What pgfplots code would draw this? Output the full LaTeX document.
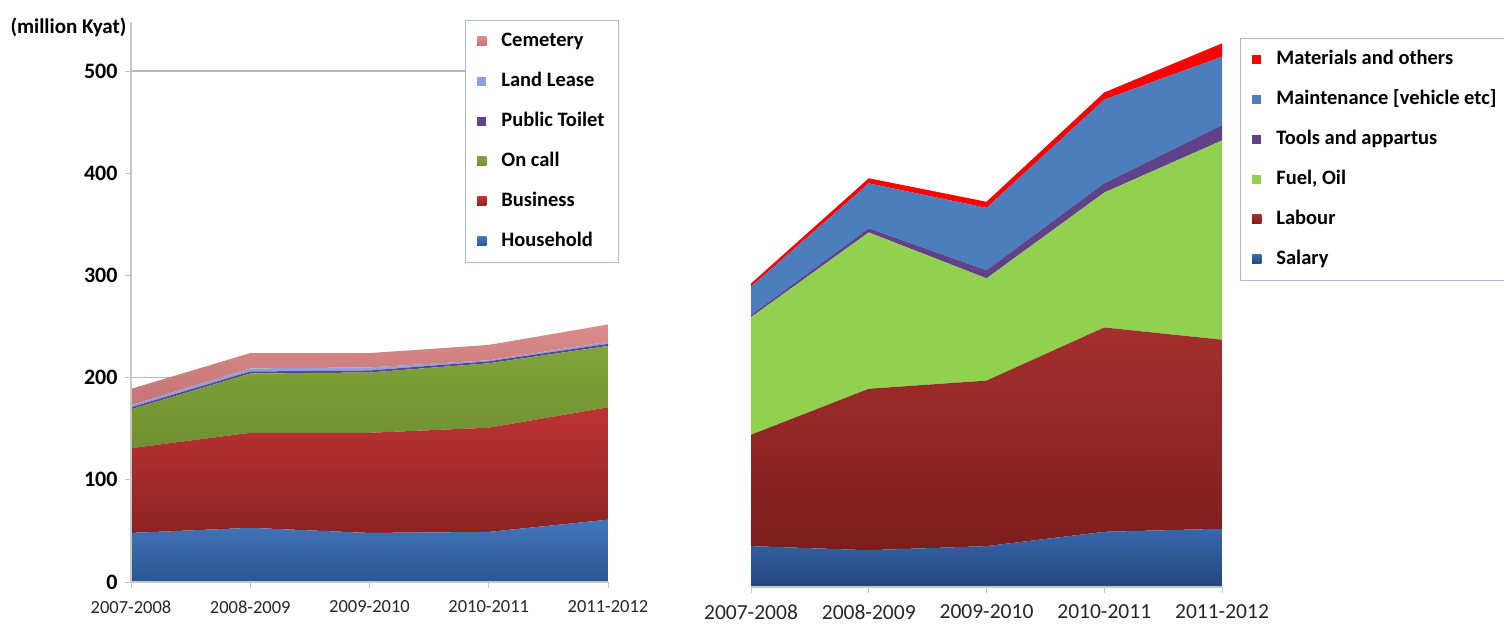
\documentclass[border=0pt]{standalone}
\usepackage{pgfplots}
\pgfplotsset{compat=1.18}
\usepackage{pgfplotstable}
\usepackage{fontspec}
\setmainfont{Carlito}
\definecolor{hhT}{RGB}{66,118,188}
\definecolor{hhB}{RGB}{42,86,146}
\definecolor{buT}{RGB}{190,52,50}
\definecolor{buB}{RGB}{140,34,34}
\definecolor{ocT}{RGB}{128,164,58}
\definecolor{ocB}{RGB}{112,144,48}
\definecolor{pt}{RGB}{96,70,142}
\definecolor{ll}{RGB}{142,162,216}
\definecolor{ceT}{RGB}{218,140,138}
\definecolor{ceB}{RGB}{196,116,116}
\definecolor{saT}{RGB}{54,104,172}
\definecolor{saB}{RGB}{36,70,124}
\definecolor{laT}{RGB}{165,46,46}
\definecolor{laB}{RGB}{124,30,30}
\definecolor{fu}{RGB}{146,208,80}
\definecolor{to}{RGB}{96,66,136}
\definecolor{ma}{RGB}{76,126,190}
\definecolor{mo}{RGB}{255,0,0}
\definecolor{legbox}{RGB}{170,185,215}
\pgfplotstableread{
x hh bus oncall toilet land cem
0 48 83 38 2 2 16
1 53 93 58 2 3 15
2 48 98 59 2 3 14
3 49 102 63 2 1 15
4 61 110 60 2 2 17
}\lefttab
\pgfplotstableread{
x salary labour fuel tools maint mat
0 40 109 115 2 28 3
1 36 158 153 4 44 5
2 40 162 100 8 61 6
3 54 200 132 9 82 7
4 57 185 195 15 67 13
}\righttab
\pgfplotsset{
  common/.style={
    scale only axis, xmin=0, xmax=4, ymin=0,
    stack plots=y, area style,
    axis x line*=bottom,
    axis line style={draw=black!22, line width=1.2pt},
    tick style={draw=black!22, line width=1pt},
    major tick length=6pt, tick align=outside,
    xtick={0,1,2,3,4},
    xticklabels={2007-2008,2008-2009,2009-2010,2010-2011,2011-2012},
    /pgf/number format/assume math mode=true,
    legend cell align=left,
    reverse legend,
    legend image code/.code={\fill[#1,draw=none] (0pt,-4.5pt) rectangle (9pt,4.5pt);},
  },
  legst/.style={
    draw=legbox, line width=1pt, fill=white,
    font=\bfseries\fontsize{20.5}{22}\selectfont,
    inner xsep=12pt, inner ysep=10pt, row sep=18pt,
    nodes={text height=14pt, text depth=4pt},
    /tikz/every odd column/.append style={column sep=13pt},
  },
}
\begin{document}
\begin{tikzpicture}[x=1pt,y=1pt]
\useasboundingbox (0,0) rectangle (1504,624);
\clip (0,0) rectangle (1504,624);
\node[font=\bfseries\fontsize{21}{22}\selectfont, anchor=west] at (7,597) {(million Kyat)};
% background gridlines (behind the areas)
\begin{axis}[
  at={(131pt,42pt)}, anchor=south west,
  scale only axis, width=477pt, height=560pt,
  xmin=0, xmax=4, ymin=0, ymax=548, hide axis,
]
\addplot[black!28, line width=1.2pt] coordinates {(0,200) (4,200)};
\addplot[black!28, line width=1.2pt] coordinates {(0,500) (4,500)};
\end{axis}
\begin{axis}[common,
  at={(131pt,42pt)}, anchor=south west,
  width=477pt, height=560pt, ymax=548,
  axis y line*=left,
  ytick={0,100,200,300,400,500},
  xticklabel style={font=\fontsize{18.5}{20}\selectfont, text=black!85, yshift=-9pt},
  yticklabel style={font=\bfseries\fontsize{22}{24}\selectfont, xshift=-4pt},
  legend style={legst, at={(0.700,1.0036)}, anchor=north west},
]
\addplot[draw=none, top color=hhT, bottom color=hhB] table[x=x,y=hh]{\lefttab} \closedcycle;
\addlegendentry{Household}
\addplot[draw=none, top color=buT, bottom color=buB] table[x=x,y=bus]{\lefttab} \closedcycle;
\addlegendentry{Business}
\addplot[draw=none, top color=ocT, bottom color=ocB] table[x=x,y=oncall]{\lefttab} \closedcycle;
\addlegendentry{On call}
\addplot[draw=none, fill=pt] table[x=x,y=toilet]{\lefttab} \closedcycle;
\addlegendentry{Public Toilet}
\addplot[draw=none, fill=ll] table[x=x,y=land]{\lefttab} \closedcycle;
\addlegendentry{Land Lease}
\addplot[draw=none, top color=ceT, bottom color=ceB] table[x=x,y=cem]{\lefttab} \closedcycle;
\addlegendentry{Cemetery}
\end{axis}
\begin{axis}[common,
  at={(751pt,37pt)}, anchor=south west,
  width=471pt, height=562pt, ymax=550,
  axis y line=none,
  xticklabel style={font=\fontsize{21.5}{23}\selectfont, text=black!85, yshift=-8pt},
  legend style={legst, at={(1.038,0.977)}, anchor=north west},
]
\addplot[draw=none, top color=saT, bottom color=saB] table[x=x,y=salary]{\righttab} \closedcycle;
\addlegendentry{Salary}
\addplot[draw=none, top color=laT, bottom color=laB] table[x=x,y=labour]{\righttab} \closedcycle;
\addlegendentry{Labour}
\addplot[draw=none, fill=fu] table[x=x,y=fuel]{\righttab} \closedcycle;
\addlegendentry{Fuel, Oil}
\addplot[draw=none, fill=to] table[x=x,y=tools]{\righttab} \closedcycle;
\addlegendentry{Tools and appartus}
\addplot[draw=none, fill=ma] table[x=x,y=maint]{\righttab} \closedcycle;
\addlegendentry{Maintenance [vehicle etc]}
\addplot[draw=none, fill=mo] table[x=x,y=mat]{\righttab} \closedcycle;
\addlegendentry{Materials and others}
\end{axis}
\end{tikzpicture}
\end{document}
